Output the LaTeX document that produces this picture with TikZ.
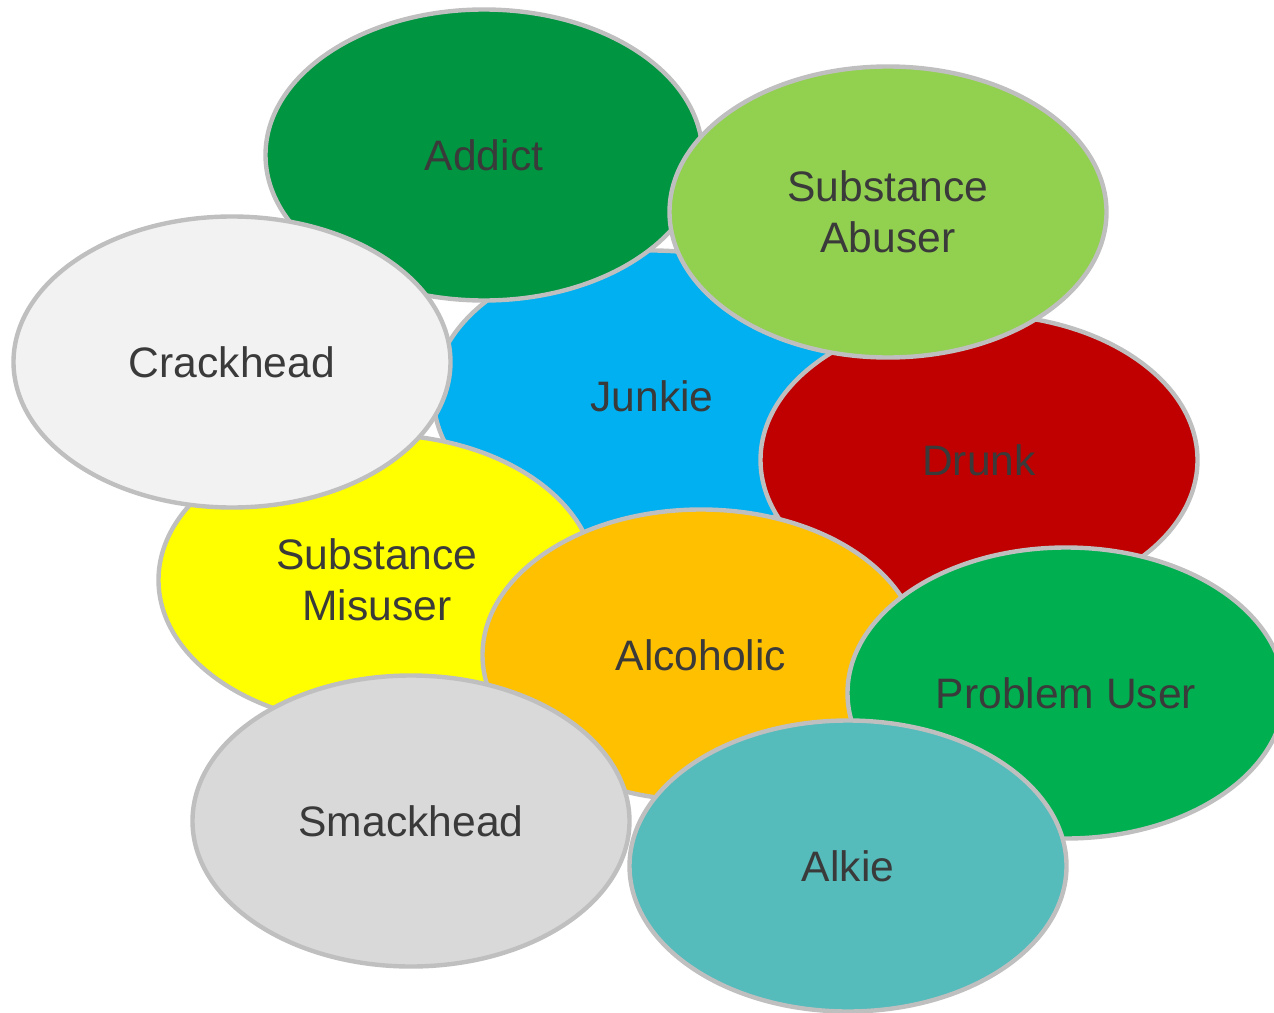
\documentclass[tikz,border=0pt]{standalone}
\usepackage{fontspec}
\setmainfont{Liberation Sans}
\usetikzlibrary{shapes.geometric}
\definecolor{cAddict}{HTML}{009540}
\definecolor{cAbuser}{HTML}{92D050}
\definecolor{cCrack}{HTML}{F2F2F2}
\definecolor{cJunkie}{HTML}{00B0F0}
\definecolor{cDrunk}{HTML}{C00000}
\definecolor{cMisuser}{HTML}{FFFF00}
\definecolor{cAlcoholic}{HTML}{FFC000}
\definecolor{cProblem}{HTML}{00B050}
\definecolor{cSmack}{HTML}{D9D9D9}
\definecolor{cAlkie}{HTML}{55BBBB}
\definecolor{cEdge}{HTML}{BFBFBF}
\definecolor{cText}{HTML}{3A3A3A}
\tikzset{
  blob/.style={ellipse, draw=cEdge, line width=2.2pt, inner sep=0pt,
    minimum width=218.5pt, minimum height=145.5pt, align=center,
    text=cText, font=\fontsize{21.3}{25.5}\selectfont}
}
\begin{document}
\begin{tikzpicture}[x=0.5pt,y=-0.5pt]
\useasboundingbox (0,0) rectangle (1274,1012);
\node[blob, fill=cJunkie]    (junkie)    at (652,396) {Junkie};
\node[blob, fill=cAddict]    (addict)    at (484,155) {Addict};
\node[blob, fill=cDrunk]     (drunk)     at (979,460) {Drunk};
\node[blob, fill=cMisuser]   (misuser)   at (377,580) {Substance\\Misuser};
\node[blob, fill=cCrack]     (crack)     at (232,362) {Crackhead};
\node[blob, fill=cAbuser]    (abuser)    at (888,212) {Substance\\Abuser};
\node[blob, fill=cAlcoholic] (alcoholic) at (701,655) {Alcoholic};
\node[blob, fill=cProblem]   (problem)   at (1066,693) {Problem User};
\node[blob, fill=cSmack]     (smack)     at (411,821) {Smackhead};
\node[blob, fill=cAlkie]     (alkie)     at (848,866) {Alkie};
\end{tikzpicture}
\end{document}
